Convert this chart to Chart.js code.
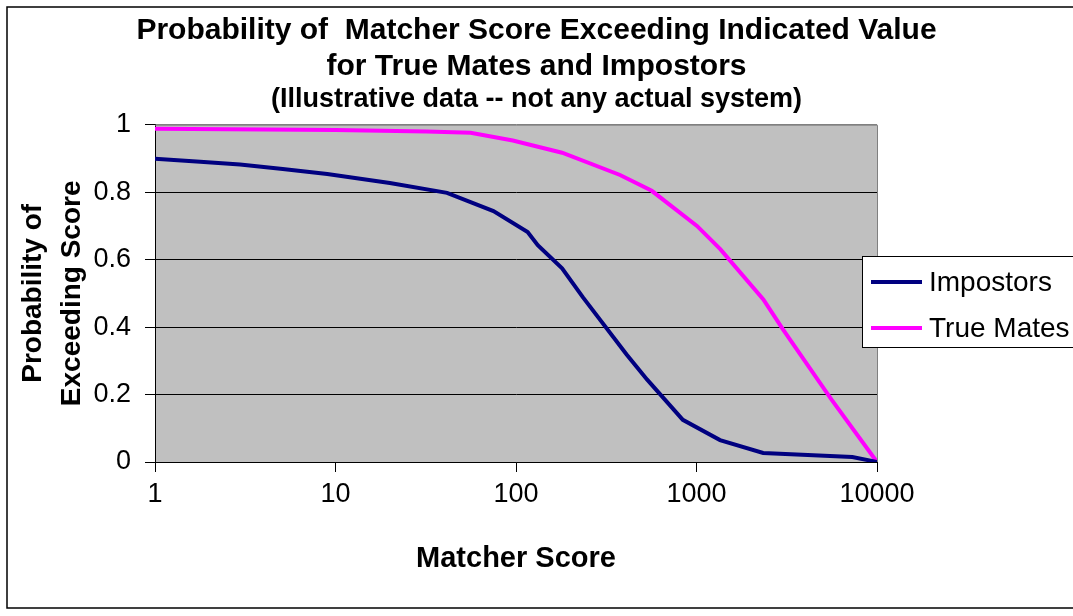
<!DOCTYPE html>
<html>
<head>
<meta charset="utf-8">
<script src="https://cdn.jsdelivr.net/npm/chart.js@4/dist/chart.umd.min.js"></script>
<style>
  html, body { margin: 0; padding: 0; background: #fff; }
  canvas { display: block; }
</style>
</head>
<body>
<canvas id="c" width="1073" height="616"></canvas>
<script>
// ---- Data ----
const titleLines = ['Probability of  Matcher Score Exceeding Indicated Value', 'for True Mates and Impostors'];
const subtitleText = '(Illustrative data -- not any actual system)';
const xAxisTitle = 'Matcher Score';
const yAxisTitle = ['Probability of', 'Exceeding Score'];
const xTickValues = [1, 10, 100, 1000, 10000];

const impostorScores = [1, 1.78, 2.96, 5.1, 9, 20, 41.5, 75, 116, 132, 180, 235, 411, 533, 840, 1350, 2340, 7300, 10000];
const impostorProbs  = [0.899, 0.89, 0.882, 0.869, 0.854, 0.827, 0.798, 0.744, 0.682, 0.643, 0.574, 0.488, 0.318, 0.244, 0.125, 0.065, 0.027, 0.015, 0];

const mateScores = [1, 10, 32, 56, 96, 180, 377, 565, 1006, 1354, 2346, 3013, 5600, 10000];
const mateProbs  = [0.988, 0.984, 0.980, 0.976, 0.953, 0.917, 0.851, 0.804, 0.700, 0.631, 0.482, 0.393, 0.185, 0];

const seriesNames  = ['Impostors', 'True Mates'];
const seriesColors = ['#000080', '#FF00FF'];

// ---- Chart ----
const FONT = "'Liberation Sans', Arial, sans-serif";
Chart.defaults.color = '#000';
Chart.defaults.font.family = FONT;

const toPoints = (xs, ys) => xs.map((x, i) => ({ x: x, y: ys[i] }));

const framePlugin = {
  id: 'frame',
  beforeDraw(chart) {
    const { ctx, chartArea: a } = chart;
    ctx.save();
    ctx.fillStyle = '#fff';
    ctx.fillRect(0, 0, chart.width, chart.height);
    ctx.fillStyle = '#C0C0C0';
    ctx.fillRect(a.left, a.top, a.right - a.left, a.bottom - a.top);
    ctx.restore();
  },
  beforeDatasetsDraw(chart) {
    const { ctx, chartArea: a } = chart;
    ctx.save();
    ctx.strokeStyle = '#808080';
    ctx.lineWidth = 1;
    ctx.beginPath();
    ctx.moveTo(a.left, a.top + 0.5);
    ctx.lineTo(a.right + 0.5, a.top + 0.5);
    ctx.lineTo(a.right + 0.5, a.bottom);
    ctx.stroke();
    ctx.restore();
  },
  afterDraw(chart) {
    const { ctx } = chart;
    ctx.save();
    // outer chart border
    ctx.strokeStyle = '#000';
    ctx.lineWidth = 1.5;
    ctx.strokeRect(7, 7, 1100, 601);
    // legend
    const bx = 862.5, by = 256.5, bw = 230, bh = 91;
    ctx.fillStyle = '#fff';
    ctx.fillRect(bx, by, bw, bh);
    ctx.lineWidth = 1;
    ctx.strokeRect(bx, by, bw, bh);
    const rowsY = [282, 328];
    chart.data.datasets.forEach((ds, i) => {
      ctx.strokeStyle = ds.borderColor;
      ctx.lineWidth = 4;
      ctx.beginPath();
      ctx.moveTo(871, rowsY[i]);
      ctx.lineTo(922, rowsY[i]);
      ctx.stroke();
      ctx.fillStyle = '#000';
      ctx.font = '28px ' + FONT;
      ctx.textBaseline = 'middle';
      ctx.textAlign = 'left';
      ctx.fillText(ds.label, 929, rowsY[i] + 1);
    });
    ctx.restore();
  }
};

new Chart(document.getElementById('c'), {
  type: 'line',
  data: {
    datasets: [
      { label: seriesNames[0], data: toPoints(impostorScores, impostorProbs), borderColor: seriesColors[0], backgroundColor: seriesColors[0], borderWidth: 4, pointRadius: 0, tension: 0 },
      { label: seriesNames[1], data: toPoints(mateScores, mateProbs), borderColor: seriesColors[1], backgroundColor: seriesColors[1], borderWidth: 4, pointRadius: 0, tension: 0 }
    ]
  },
  options: {
    responsive: false,
    animation: false,
    devicePixelRatio: 1,
    layout: { padding: { left: 0, right: 0, top: 0, bottom: 0 } },
    plugins: {
      legend: { display: false },
      tooltip: { enabled: false },
      title: {
        display: true,
        text: titleLines,
        font: { size: 30, weight: 'bold', family: FONT, lineHeight: 36 / 30 },
        padding: { top: 13, bottom: 0 },
        color: '#000'
      },
      subtitle: {
        display: true,
        text: subtitleText,
        font: { size: 27, weight: 'bold', family: FONT, lineHeight: 1.1 },
        padding: { top: 0, bottom: 10 },
        color: '#000'
      }
    },
    scales: {
      x: {
        type: 'logarithmic',
        min: 1,
        max: 10000,
        afterBuildTicks(scale) { scale.ticks = xTickValues.map(v => ({ value: v })); },
        afterFit(scale) { scale.height = 154; },
        ticks: {
          autoSkip: false,
          maxRotation: 0,
          padding: 6,
          font: { size: 27, family: FONT },
          callback: (v) => String(v)
        },
        grid: { drawOnChartArea: false, drawTicks: true, tickLength: 10, color: '#000', tickColor: '#000' },
        border: { display: true, color: '#000', width: 1 },
        title: {
          display: true,
          text: xAxisTitle,
          font: { size: 29, weight: 'bold', family: FONT, lineHeight: 1.2 },
          padding: { top: 0, bottom: 40 }
        }
      },
      y: {
        min: 0,
        max: 1,
        afterFit(scale) { scale.width = 155; },
        ticks: {
          stepSize: 0.2,
          padding: 14,
          font: { size: 27, family: FONT },
          callback: (v) => String(Math.round(v * 10) / 10)
        },
        grid: {
          drawTicks: true,
          tickLength: 10,
          color: (c) => (c.tick && c.tick.value === 1 ? '#808080' : '#000'),
          tickColor: '#000',
          lineWidth: 1
        },
        border: { display: true, color: '#000', width: 1 },
        title: {
          display: true,
          text: yAxisTitle,
          font: { size: 28, weight: 'bold', family: FONT, lineHeight: 39 / 28 },
          padding: { top: 14, bottom: 0 }
        }
      },
      yRightSpace: {
        position: 'right',
        display: true,
        min: 0,
        max: 1,
        afterFit(scale) { scale.width = 196; },
        ticks: { display: false },
        grid: { display: false, drawOnChartArea: false, drawTicks: false },
        border: { display: false },
        title: { display: false }
      }
    }
  },
  plugins: [framePlugin]
});
</script>
</body>
</html>
